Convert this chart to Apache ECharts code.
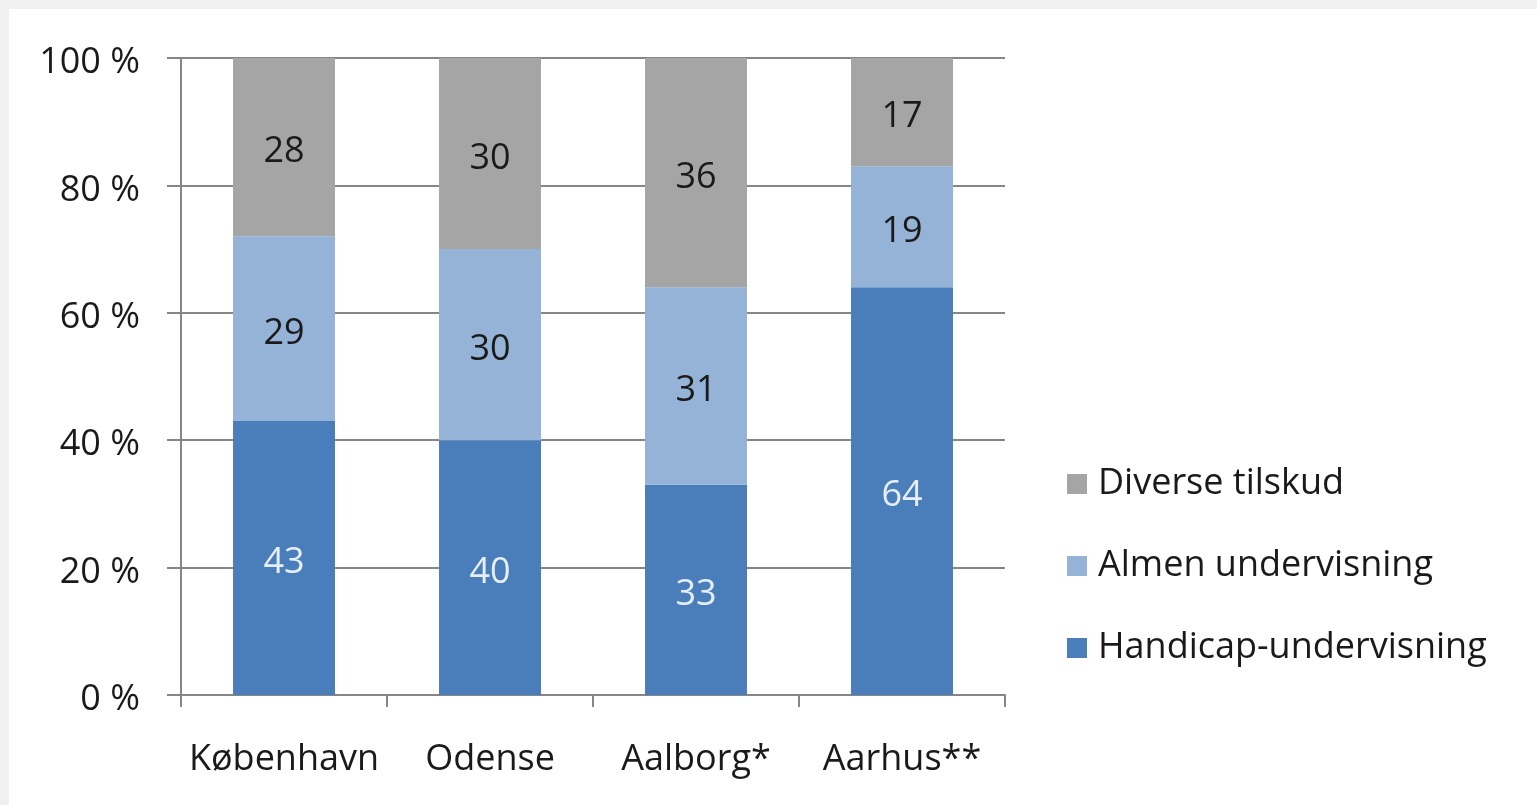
<!DOCTYPE html>
<html>
<head>
<meta charset="utf-8">
<script src="https://cdn.jsdelivr.net/npm/echarts@6/dist/echarts.min.js"></script>
<style>
html,body{margin:0;padding:0;background:#f0f0f0;}
#chart{width:1537px;height:805px;}
</style>
</head>
<body>
<div id="chart"></div>
<script>
const categories = ['København', 'Odense', 'Aalborg*', 'Aarhus**'];
const handicap = [43, 40, 33, 64];
const almen = [29, 30, 31, 19];
const diverse = [28, 30, 36, 17];
const yTicks = [0, 20, 40, 60, 80, 100];

const FONT = '"Open Sans", "Liberation Sans", sans-serif';
const FS = 36;
const chart = echarts.init(document.getElementById('chart'));
const labelBase = { show: true, position: 'inside', offset: [0, 5], fontFamily: FONT, fontSize: FS };

chart.setOption({
  backgroundColor: '#f0f0f0',
  animation: false,
  graphic: [{ type: 'rect', left: 9, top: 9, shape: { width: 1528, height: 796 }, style: { fill: '#ffffff' }, z: -10 }],
  grid: { left: 181, right: 532, top: 58, bottom: 110 },
  legend: {
    orient: 'vertical', left: 1062, top: 461, itemGap: 46,
    itemWidth: 20, itemHeight: 20, icon: 'rect',
    textStyle: { fontFamily: FONT, fontSize: FS, color: '#1a1a1a', padding: [0, 0, 0, 6] },
    data: ['Diverse tilskud', 'Almen undervisning', 'Handicap-undervisning']
  },
  xAxis: {
    type: 'category', data: categories,
    axisLine: { lineStyle: { color: '#868686', width: 2 } },
    axisTick: { show: true, interval: 0, length: 12, lineStyle: { color: '#868686', width: 2 } },
    axisLabel: { interval: 0, hideOverlap: false, fontFamily: FONT, fontSize: FS, color: '#1a1a1a', margin: 47 }
  },
  yAxis: {
    type: 'value', min: 0, max: 100, interval: 20,
    axisLine: { show: true, lineStyle: { color: '#868686', width: 2 } },
    axisTick: { show: true, length: 14, lineStyle: { color: '#868686', width: 2 } },
    splitLine: { lineStyle: { color: '#868686', width: 2 } },
    axisLabel: { fontFamily: FONT, fontSize: FS, color: '#1a1a1a', margin: 41,
      verticalAlign: 'top', lineHeight: 10,
      formatter: v => yTicks.includes(v) ? v + ' %' : '' }
  },
  series: [
    { name: 'Handicap-undervisning', type: 'bar', stack: 's', data: handicap, barWidth: '49.5%',
      itemStyle: { color: '#4a7ebb' }, label: Object.assign({}, labelBase, { color: '#e6eef8' }) },
    { name: 'Almen undervisning', type: 'bar', stack: 's', data: almen,
      itemStyle: { color: '#95b3d7' }, label: Object.assign({}, labelBase, { color: '#1a1a1a' }) },
    { name: 'Diverse tilskud', type: 'bar', stack: 's', data: diverse,
      itemStyle: { color: '#a5a5a5' }, label: Object.assign({}, labelBase, { color: '#1a1a1a' }) }
  ]
});
</script>
</body>
</html>
